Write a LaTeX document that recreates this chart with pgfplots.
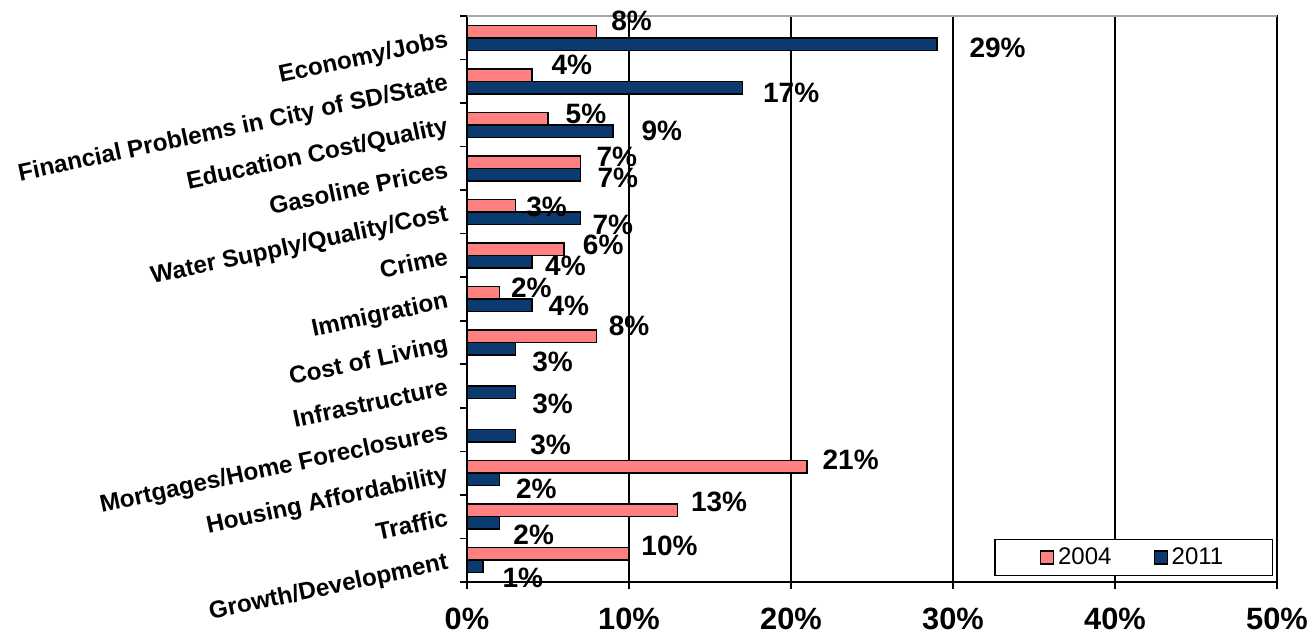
\documentclass[border=0pt]{standalone}
\usepackage{fontspec}
\setmainfont{Liberation Sans}
\usepackage{pgfplots}
\pgfplotsset{compat=1.18}
\usepackage{pgfplotstable}
\definecolor{pinkA}{HTML}{FF8080}
\definecolor{navyB}{HTML}{0B3A6E}

% y = category (12 = top), v = percent, dx/dy = label offset in pt
\pgfplotstableread{
y  v   dx    dy
12 8   7     5.25
11 4   9.5   5.25
10 5   8.5   2.25
9  7   7.75  2.5
8  3   5     -0.5
7  6   9     2.25
6  2   5.5   2.5
5  8   5.75  5
2  21  7.35  3.75
1  13  6.35  4.5
0  10  5.85  4
}\dataA

\pgfplotstableread{
y  v   dx    dy
12 29  16    -1.75
11 17  10    -2.5
10 9   14    0
9  7   8.25  -1.5
8  7   5.75  -3.5
7  4   6.35  -2
6  4   8     -0.5
5  3   8     -6.5
4  3   8     -6
3  3   7     -4.5
2  2   8     -4.75
1  2   6.65  -5.75
0  1   9.35  -5.75
}\dataB

\begin{document}
\begin{tikzpicture}
\begin{axis}[
    scale only axis,
    width=405pt, height=283pt,
    xmin=0, xmax=50, ymin=-0.5, ymax=12.5,
    clip=false,
    xbar, bar width=6.25pt,
    tick pos=left,
    xtick={0,10,...,50},
    xticklabels={0\%,10\%,20\%,30\%,40\%,50\%},
    xticklabel style={yshift=-6pt, font=\bfseries\fontsize{15.4}{18}\selectfont},
    ytick={-0.5,0.5,...,12.5}, yticklabels={},
    extra y ticks={0,...,12},
    extra y tick labels={Growth/Development,Traffic,Housing Affordability,Mortgages/Home Foreclosures,Infrastructure,Cost of Living,Immigration,Crime,Water Supply/Quality/Cost,Gasoline Prices,Education Cost/Quality,Financial Problems in City of SD/State\ ,Economy/Jobs},
    extra y tick style={major tick length=0pt},
    yticklabel style={rotate=12, anchor=north east, inner sep=0pt, xshift=-9.5pt, yshift=6.5pt,
        font=\bfseries\fontsize{12.1}{14}\selectfont},
    tick align=outside, major tick length=3.5pt,
    tick style={black, line width=0.8pt},
    xmajorgrids, major grid style={black, line width=0.8pt},
    axis line style={black, line width=1pt},
    point meta=x,
    nodes near coords={\pgfmathprintnumber[fixed,precision=0,assume math mode=true]{\pgfplotspointmeta}\%},
    visualization depends on={\thisrow{dx} \as \labdx},
    visualization depends on={\thisrow{dy} \as \labdy},
    every node near coord/.append style={anchor=west, inner sep=0pt,
        xshift=\labdx pt, yshift=\labdy pt, text=black,
        font=\bfseries\fontsize{14}{16}\selectfont},
    legend style={at={(rel axis cs:0.995,0.0106)}, anchor=south east,
        draw=black, line width=0.6pt, fill=white, legend columns=2,
        font=\fontsize{12}{14}\selectfont, inner xsep=22.5pt, inner ysep=2pt,
        /tikz/every even column/.append style={column sep=19pt}},
    legend image code/.code={\draw[#1, line width=0.6pt] (0pt,-3.25pt) rectangle (6.5pt,3.25pt);},
]
\addplot[fill=pinkA, draw=black, line width=0.75pt, /pgf/bar shift=3.125pt]
    table[x=v, y=y] {\dataA};
\addplot[fill=navyB, draw=black, line width=0.75pt, /pgf/bar shift=-3.125pt]
    table[x=v, y=y] {\dataB};
\legend{2004, 2011}
\draw[gray!70, line width=1pt] (rel axis cs:0,1) -- (rel axis cs:1,1);
\coordinate (bl) at (rel axis cs:0,0);
\coordinate (tr) at (rel axis cs:1,1);
\end{axis}
\path (bl) ++(-233.5pt,-26.5pt) coordinate (p1);
\path (tr) ++(17pt,8pt) coordinate (p2);
\pgfresetboundingbox
\path (p1) rectangle (p2);
\end{tikzpicture}
\end{document}
